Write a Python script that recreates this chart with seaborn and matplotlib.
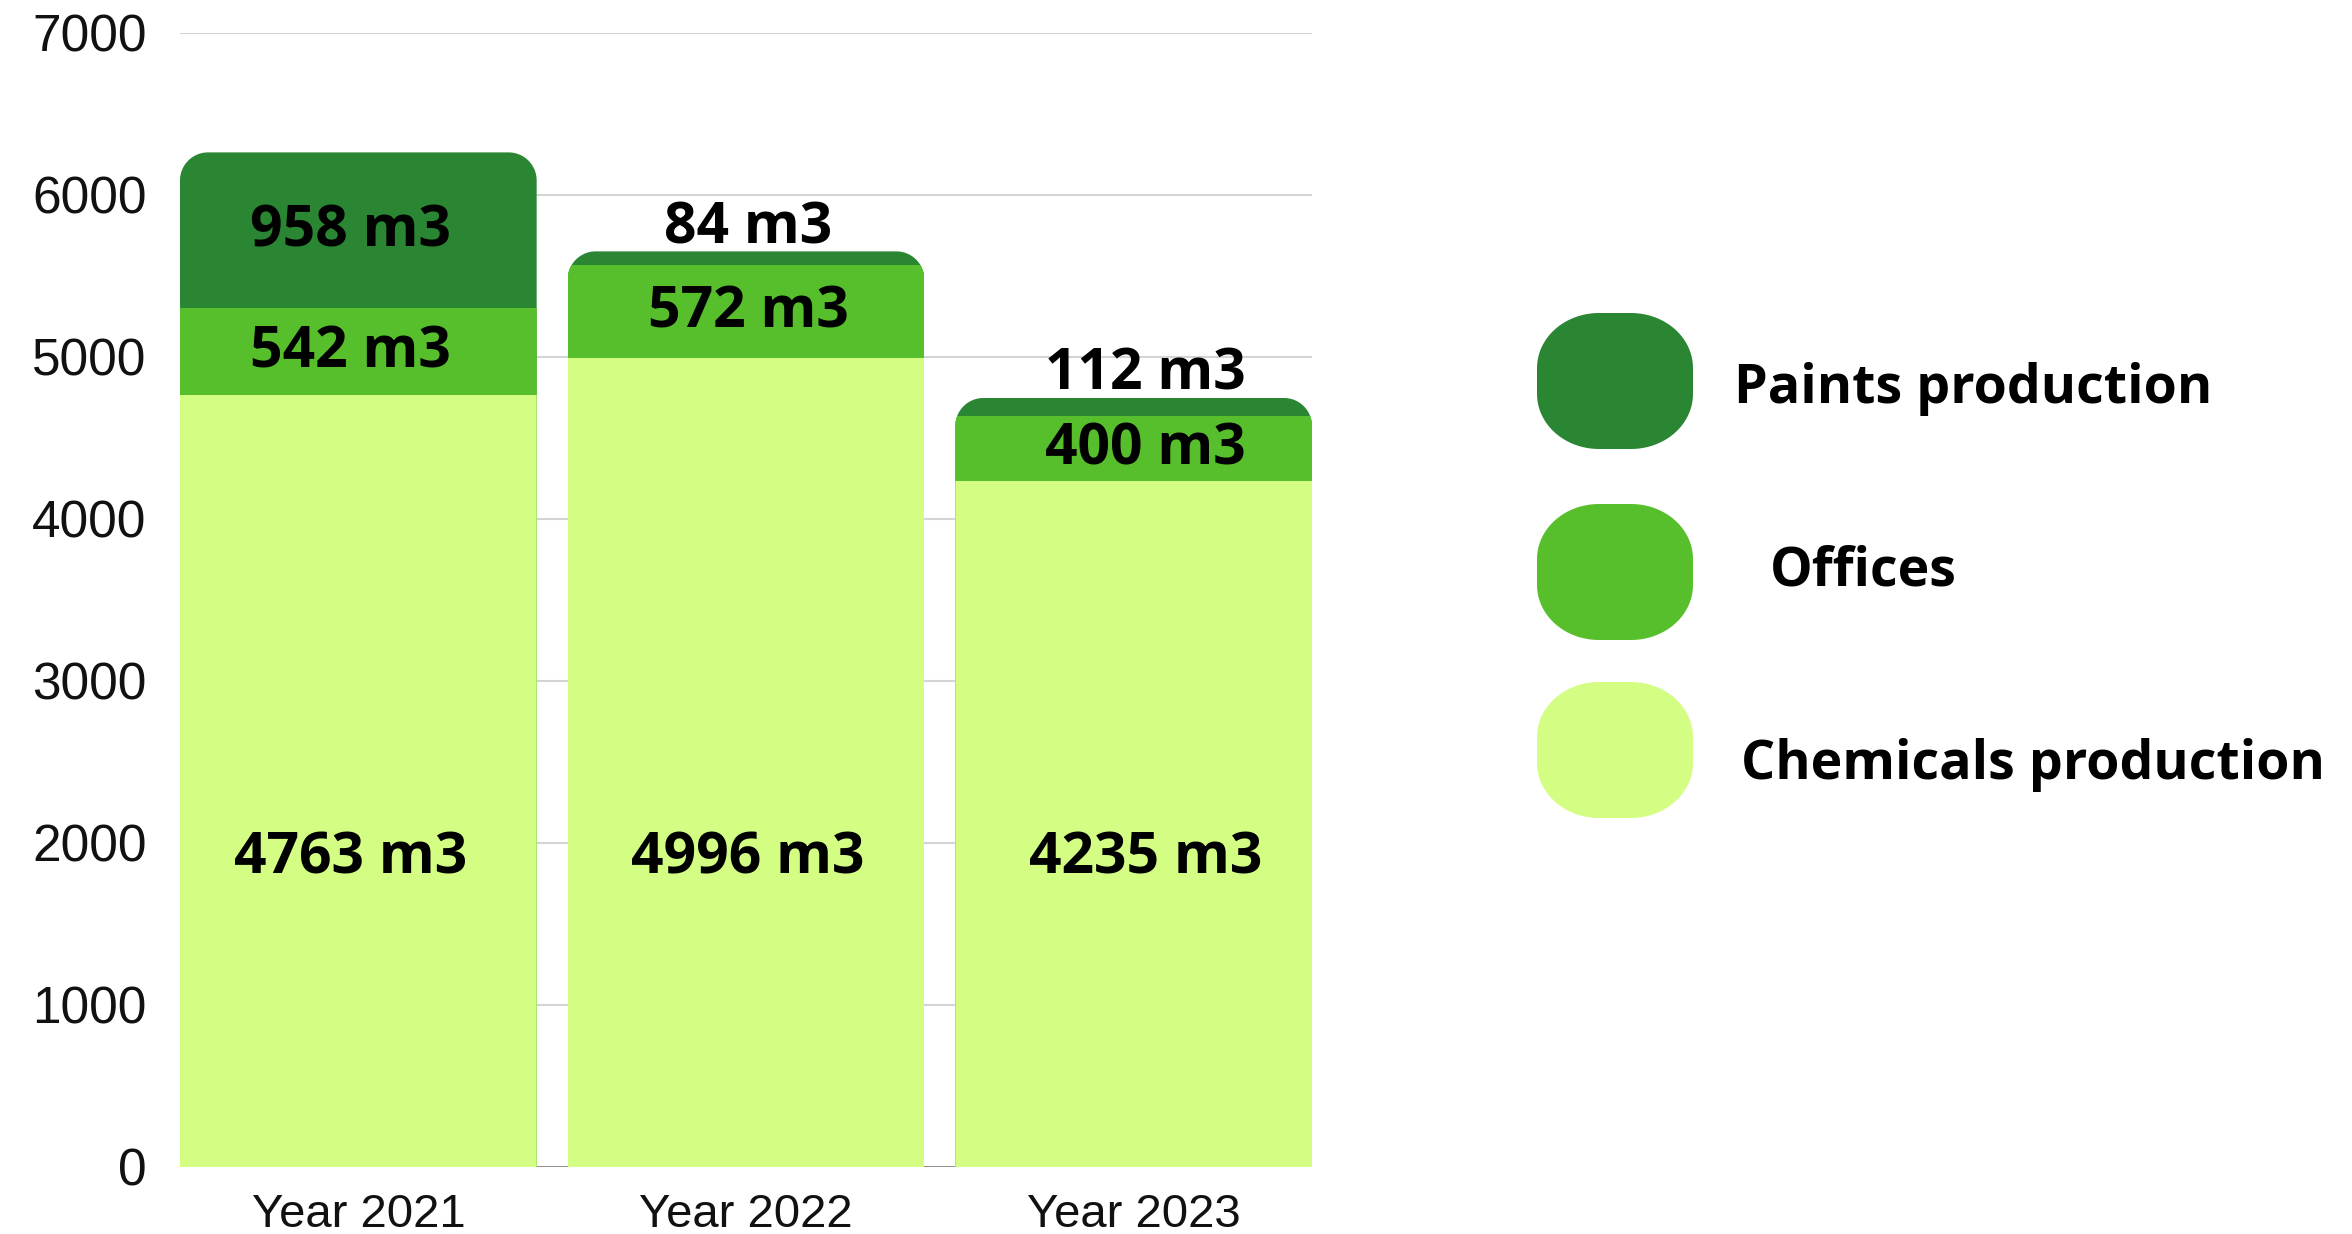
import numpy as np
import pandas as pd
import matplotlib
matplotlib.use("Agg")
import matplotlib.pyplot as plt
import seaborn as sns
from matplotlib.patches import PathPatch
from matplotlib.path import Path
from matplotlib.transforms import IdentityTransform

# ---------------- data ----------------
years = ["Year 2021", "Year 2022", "Year 2023"]
chemicals = [4763, 4996, 4235]
offices = [542, 572, 400]
paints = [958, 84, 112]
series_names = ["Paints production", "Offices", "Chemicals production"]
colors = ["#2a8632", "#57bf2c", "#d3fe83"]
yticks = [0, 1000, 2000, 3000, 4000, 5000, 6000, 7000]

df = pd.DataFrame({"year": years, "chem": chemicals, "off": offices, "paint": paints})
df["top2"] = df["chem"] + df["off"]
df["top3"] = df["top2"] + df["paint"]


def rounded_pts(x0, y0, x1, y1, rx, ry, bottom_round=True, n=24):
    """Polygon points of a rectangle with elliptical-arc corners."""
    t = np.linspace(0, np.pi / 2, n)
    pts = []
    pts += [(x0 + rx - rx * np.cos(a), y1 - ry + ry * np.sin(a)) for a in t]
    pts += [(x1 - rx + rx * np.sin(a), y1 - ry + ry * np.cos(a)) for a in t]
    if bottom_round:
        pts += [(x1 - rx + rx * np.cos(a), y0 + ry - ry * np.sin(a)) for a in t]
        pts += [(x0 + rx - rx * np.sin(a), y0 + ry - ry * np.cos(a)) for a in t]
    else:
        pts += [(x1, y0), (x0, y0)]
    pts.append(pts[0])
    return pts


# ---------------- figure ----------------
W, H = 2352, 1234
sns.set_theme(style="white")
plt.rcParams["font.family"] = ["Liberation Sans", "DejaVu Sans"]

fig = plt.figure(figsize=(W / 100, H / 100), dpi=100)
ax_l, ax_r, ax_t, ax_b = 180, 1312, 33, 1167
ax = fig.add_axes([ax_l / W, 1 - ax_b / H, (ax_r - ax_l) / W, (ax_b - ax_t) / H])

BW = 0.92
common = dict(data=df, x="year", ax=ax, width=BW, saturation=1, errorbar=None,
              edgecolor="none", linewidth=0, zorder=3)
sns.barplot(y="top3", color=colors[0], **common)
sns.barplot(y="top2", color=colors[1], **common)
sns.barplot(y="chem", color=colors[2], **common)

ax.set_xlim(-BW / 2, len(years) - 1 + BW / 2)
ax.set_ylim(0, 7000)
ax.set_yticks(yticks)
ax.set_yticklabels([str(v) for v in yticks])
ax.set_xlabel("")
ax.set_ylabel("")
for s in ax.spines.values():
    s.set_visible(False)
ax.grid(axis="y", color="#d4d4d4", linewidth=1.5, zorder=0)
ax.grid(axis="x", visible=False)
ax.set_axisbelow(True)
ax.axhline(0, color="#8a8a8a", linewidth=2, zorder=1)
ax.tick_params(axis="y", length=0, pad=24, labelsize=37, labelcolor="#111111")
ax.tick_params(axis="x", length=0, pad=19, labelsize=34, labelcolor="#111111")

# rounded top corners via clip paths
px_x = (ax_r - ax_l) / (len(years) - 1 + BW)
px_y = (ax_b - ax_t) / 7000
R = 28
rx, ry = R / px_x, R / px_y
for i, top in enumerate(df["top3"]):
    pts = rounded_pts(i - BW / 2, 0, i + BW / 2, top, rx, ry, bottom_round=False)
    clip = PathPatch(Path(pts, closed=True), transform=ax.transData)
    for p in ax.patches:
        cx = p.get_x() + p.get_width() / 2
        if abs(cx - i) < 0.1:
            p.set_clip_path(clip)

# bar labels
lab_font = dict(family=["Open Sans", "DejaVu Sans"], fontweight="bold", fontsize=41,
                color="black", ha="center", zorder=5)
chem_label_y = 1910
lab_shift = -1
for i in range(len(years)):
    lx = i * 1.025 - 0.02
    ax.annotate(f"{chemicals[i]} m3", (lx, chem_label_y), xytext=(0, lab_shift),
                textcoords="offset points", va="center", **lab_font)
    ax.annotate(f"{offices[i]} m3", (lx, chemicals[i] + offices[i] / 2), xytext=(0, lab_shift),
                textcoords="offset points", va="center", **lab_font)
    top = df["top3"][i]
    if paints[i] < 300:
        ax.annotate(f"{paints[i]} m3", (lx, top), xytext=(0, 6), textcoords="offset points",
                    va="baseline", **lab_font)
    else:
        ax.annotate(f"{paints[i]} m3", (lx, df["top2"][i] + paints[i] / 2), xytext=(0, lab_shift),
                    textcoords="offset points", va="center", **lab_font)

# custom legend
mk_x, mk_w, mk_h = 1537, 156, 136
mk_tops = [313, 504, 682]
txt_x = [1734, 1770, 1741]
txt_y = [389, 572, 765]
for name, col, mt, tx, ty in zip(series_names, colors, mk_tops, txt_x, txt_y):
    y0 = H - mt - mk_h
    pts = rounded_pts(mk_x, y0, mk_x + mk_w, y0 + mk_h, 62, 55)
    fig.patches.append(PathPatch(Path(pts, closed=True), facecolor=col, edgecolor="none",
                                 transform=IdentityTransform(), figure=fig))
    fig.text(tx / W, 1 - ty / H, name, va="center", ha="left",
             family=["Open Sans", "DejaVu Sans"], fontweight="bold", fontsize=38.7, color="black")

fig.savefig("out.png", dpi=100, facecolor="white")
